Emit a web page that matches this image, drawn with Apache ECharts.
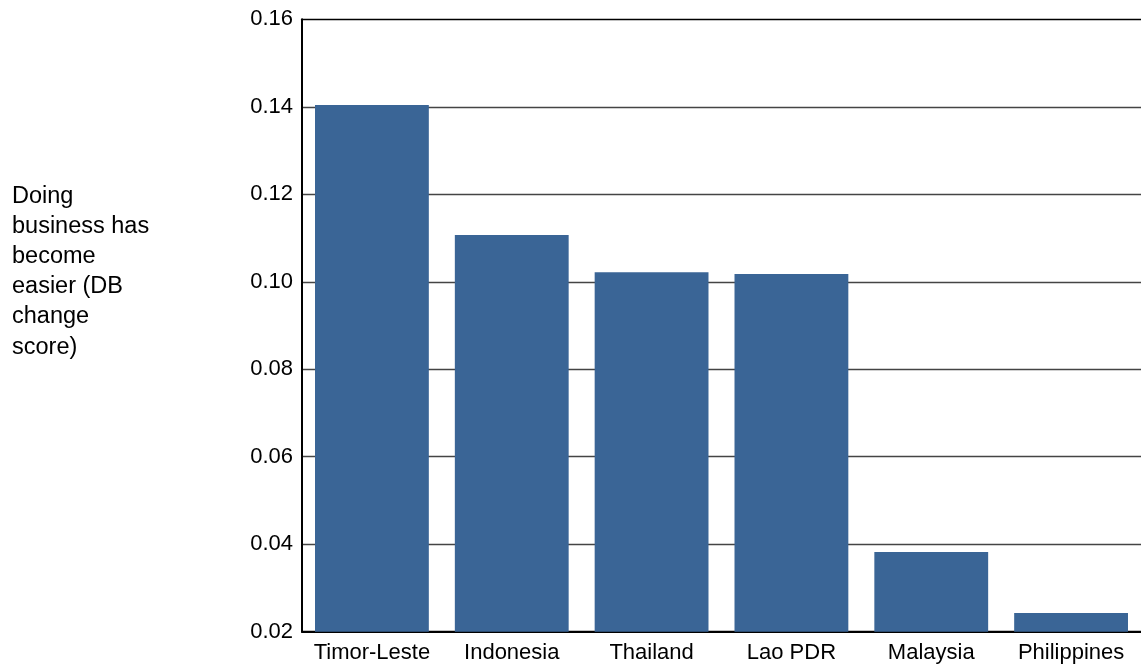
<!DOCTYPE html>
<html>
<head>
<meta charset="utf-8">
<script src="https://cdn.jsdelivr.net/npm/echarts@6/dist/echarts.min.js"></script>
<style>
html,body{margin:0;padding:0;background:#fff;}
#chart{width:1141px;height:666px;}
</style>
</head>
<body>
<div id="chart"></div>
<script>
const categories = ['Timor-Leste', 'Indonesia', 'Thailand', 'Lao PDR', 'Malaysia', 'Philippines'];
const values = [0.1404, 0.1107, 0.1022, 0.1018, 0.0382, 0.0243];
const yTitle = 'Doing\nbusiness has\nbecome\neasier (DB\nchange\nscore)';

const chart = echarts.init(document.getElementById('chart'));
const font = 'Liberation Sans, Arial, sans-serif';
chart.setOption({
  animation: false,
  grid: { left: 302, right: -8, top: 19.3, bottom: 34.3, containLabel: false },
  graphic: [{
    type: 'text', left: 12, top: 181,
    style: { text: yTitle, font: '23.5px ' + font, fill: '#000', lineHeight: 30.2 }
  }],
  xAxis: {
    type: 'category', data: categories,
    axisLine: { lineStyle: { color: '#000', width: 2 } },
    axisTick: { show: false },
    axisLabel: { color: '#000', fontSize: 22, fontFamily: font, margin: 10, interval: 0 }
  },
  yAxis: {
    type: 'value', min: 0.02, max: 0.16, interval: 0.02,
    axisLine: { show: true, lineStyle: { color: '#000', width: 2 } },
    axisTick: { show: false },
    axisLabel: { color: '#000', fontSize: 22, fontFamily: font, margin: 9,
      formatter: v => v.toFixed(2) },
    splitLine: { lineStyle: { color: ['#000', '#444', '#444', '#444', '#444', '#444', '#444', '#000'], width: 1.3 } }
  },
  series: [{
    type: 'bar', data: values, barCategoryGap: '18.6%',
    itemStyle: { color: '#3a6596' }
  }]
});
</script>
</body>
</html>
